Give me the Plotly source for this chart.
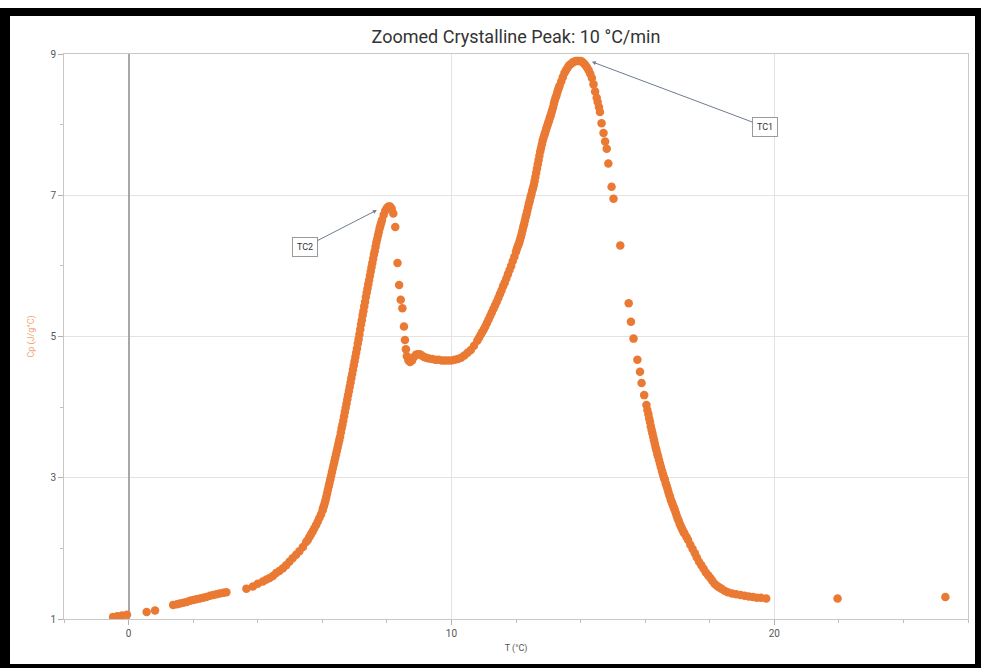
import plotly.graph_objects as go

# Temperature (°C) and heat capacity (J/g°C)
T = [-0.48, -0.35, -0.20, -0.05, 0.56, 0.82, 1.38, 1.50, 1.59, 1.70, 1.80, 1.90, 2.00, 2.10,
     2.21, 2.31, 2.41, 2.52, 2.62, 2.72, 2.82, 2.93, 3.03, 3.65, 3.85, 4.00, 4.16, 4.27, 4.37,
     4.47, 4.57, 4.67, 4.78, 4.88, 4.98, 5.08, 5.19, 5.29, 5.40, 5.50, 5.60, 5.70, 5.81, 5.91,
     6.01, 6.05, 6.10, 6.15, 6.20, 6.25, 6.30, 6.35, 6.40, 6.45, 6.50, 6.55, 6.60, 6.65, 6.70,
     6.75, 6.80, 6.85, 6.90, 6.95, 7.00, 7.05, 7.10, 7.15, 7.20, 7.25, 7.30, 7.35, 7.40, 7.45,
     7.50, 7.55, 7.60, 7.65, 7.70, 7.75, 7.80, 7.85, 7.90, 7.95, 8.00, 8.05, 8.10, 8.15, 8.20,
     8.26, 8.33, 8.38, 8.43, 8.48, 8.53, 8.56, 8.59, 8.62, 8.67, 8.72, 8.78, 8.84, 8.90, 8.96,
     9.02, 9.08, 9.15, 9.22, 9.30, 9.40, 9.50, 9.60, 9.70, 9.80, 9.90, 10.00, 10.10, 10.20,
     10.30, 10.40, 10.50, 10.60, 10.70, 10.80, 10.90, 11.00, 11.10, 11.20, 11.30, 11.40, 11.50,
     11.60, 11.70, 11.80, 11.90, 12.00, 12.05, 12.10, 12.15, 12.20, 12.25, 12.30, 12.35, 12.40,
     12.45, 12.50, 12.55, 12.60, 12.65, 12.70, 12.75, 12.80, 12.85, 12.90, 12.95, 13.00, 13.05,
     13.10, 13.15, 13.20, 13.25, 13.30, 13.35, 13.40, 13.45, 13.50, 13.55, 13.60, 13.65, 13.70,
     13.75, 13.80, 13.85, 13.90, 13.95, 14.00, 14.05, 14.10, 14.15, 14.20, 14.25, 14.30, 14.35,
     14.40, 14.45, 14.50, 14.53, 14.57, 14.60, 14.65, 14.71, 14.76, 14.81, 14.86, 14.96, 15.02,
     15.23, 15.49, 15.56, 15.64, 15.76, 15.84, 15.89, 15.97, 16.04, 16.10, 16.15, 16.20, 16.25,
     16.30, 16.35, 16.40, 16.46, 16.52, 16.57, 16.61, 16.67, 16.72, 16.77, 16.82, 16.87, 16.92,
     16.98, 17.04, 17.10, 17.16, 17.22, 17.28, 17.33, 17.40, 17.47, 17.54, 17.60, 17.67, 17.74,
     17.81, 17.88, 17.95, 18.02, 18.08, 18.15, 18.22, 18.29, 18.36, 18.46, 18.56, 18.69, 18.82,
     18.95, 19.08, 19.21, 19.34, 19.46, 19.59, 19.75, 21.96, 25.30]
Cp = [1.03, 1.04, 1.05, 1.06, 1.10, 1.12, 1.20, 1.21, 1.22, 1.23, 1.24, 1.26, 1.27, 1.28,
      1.29, 1.30, 1.31, 1.33, 1.34, 1.35, 1.36, 1.37, 1.38, 1.43, 1.46, 1.50, 1.53, 1.56, 1.58,
      1.61, 1.65, 1.68, 1.72, 1.76, 1.81, 1.86, 1.91, 1.96, 2.02, 2.09, 2.16, 2.24, 2.33, 2.43,
      2.54, 2.60, 2.68, 2.78, 2.88, 2.98, 3.08, 3.18, 3.28, 3.38, 3.48, 3.58, 3.70, 3.81, 3.93,
      4.05, 4.17, 4.29, 4.41, 4.53, 4.65, 4.77, 4.90, 5.03, 5.17, 5.30, 5.43, 5.56, 5.68, 5.80,
      5.92, 6.04, 6.16, 6.27, 6.38, 6.48, 6.57, 6.65, 6.72, 6.78, 6.82, 6.84, 6.84, 6.81, 6.74,
      6.55, 6.04, 5.73, 5.52, 5.40, 5.14, 4.95, 4.82, 4.72, 4.66, 4.64, 4.66, 4.71, 4.74, 4.75,
      4.75, 4.73, 4.71, 4.70, 4.69, 4.68, 4.67, 4.67, 4.66, 4.66, 4.66, 4.66, 4.67, 4.68,
      4.70, 4.73, 4.77, 4.81, 4.87, 4.94, 5.02, 5.10, 5.19, 5.29, 5.39, 5.49, 5.60,
      5.71, 5.82, 5.94, 6.07, 6.20, 6.27, 6.33, 6.41, 6.50, 6.59, 6.69, 6.78, 6.88,
      6.97, 7.06, 7.14, 7.26, 7.38, 7.50, 7.62, 7.72, 7.81, 7.88, 7.96, 8.03, 8.10,
      8.17, 8.25, 8.34, 8.41, 8.49, 8.55, 8.61, 8.67, 8.73, 8.77, 8.81, 8.84, 8.86,
      8.88, 8.89, 8.90, 8.90, 8.90, 8.90, 8.89, 8.87, 8.84, 8.81, 8.77, 8.72, 8.66,
      8.57, 8.47, 8.38, 8.32, 8.25, 8.18, 8.02, 7.88, 7.76, 7.66, 7.45, 7.12, 6.95,
      6.29, 5.47, 5.21, 4.97, 4.67, 4.50, 4.34, 4.17, 4.03, 3.90, 3.79, 3.68, 3.58,
      3.48, 3.39, 3.30, 3.20, 3.10, 3.02, 2.97, 2.88, 2.80, 2.73, 2.66, 2.60, 2.54,
      2.46, 2.39, 2.32, 2.26, 2.21, 2.16, 2.12, 2.05, 1.99, 1.93, 1.87, 1.81, 1.76,
      1.71, 1.66, 1.62, 1.58, 1.54, 1.50, 1.47, 1.45, 1.43, 1.40, 1.38, 1.36, 1.35,
      1.34, 1.33, 1.32, 1.31, 1.30, 1.30, 1.29, 1.29, 1.31]

# Additional readings on the densely sampled flanks
T_dense = [5.55, 5.65, 5.75, 5.86, 5.96,
           6.025, 6.075, 6.125, 6.175, 6.225, 6.275, 6.325, 6.375, 6.425, 6.475, 6.525,
           6.575, 6.625, 6.675, 6.725, 6.775, 6.825, 6.875, 6.925, 6.975, 7.025, 7.075,
           7.125, 7.175, 7.225, 7.275, 7.325, 7.375, 7.425, 7.475, 7.525, 7.575, 7.625,
           7.675, 7.725, 7.775, 7.825,
           10.85, 10.95, 11.05, 11.15, 11.25, 11.35, 11.45, 11.55, 11.65, 11.75, 11.85, 11.95,
           12.025, 12.075, 12.125, 12.175, 12.225, 12.275, 12.325, 12.375, 12.425, 12.475,
           12.525, 12.575, 12.625, 12.675, 12.725, 12.775, 12.825, 12.875, 12.925, 12.975,
           13.025, 13.075, 13.125, 13.175, 13.225, 13.275, 13.325,
           16.07, 16.125, 16.175, 16.225, 16.275, 16.325, 16.375, 16.43, 16.49, 16.545,
           16.59, 16.64, 16.695, 16.745, 16.795, 16.845, 16.895, 16.95, 17.01, 17.07,
           17.13, 17.19]
Cp_dense = [2.12, 2.20, 2.28, 2.38, 2.48,
            2.57, 2.64, 2.73, 2.83, 2.93, 3.03, 3.13, 3.23, 3.33, 3.43, 3.53,
            3.64, 3.75, 3.87, 3.99, 4.11, 4.23, 4.35, 4.47, 4.59, 4.71, 4.83,
            4.96, 5.10, 5.23, 5.36, 5.49, 5.62, 5.74, 5.86, 5.98, 6.10, 6.21,
            6.33, 6.43, 6.53, 6.61,
            4.98, 5.06, 5.14, 5.24, 5.34, 5.44, 5.54, 5.65, 5.76, 5.88, 6.00, 6.13,
            6.24, 6.30, 6.37, 6.45, 6.55, 6.64, 6.73, 6.83, 6.92, 7.01,
            7.10, 7.20, 7.32, 7.44, 7.56, 7.67, 7.77, 7.85, 7.92, 7.99,
            8.06, 8.13, 8.21, 8.30, 8.38, 8.45, 8.52,
            3.96, 3.84, 3.73, 3.63, 3.53, 3.43, 3.34, 3.25, 3.15, 3.06,
            2.99, 2.92, 2.84, 2.76, 2.69, 2.63, 2.57, 2.50, 2.42, 2.35,
            2.29, 2.23]

X_RANGE = [-2, 26]
Y_RANGE = [1, 9]
X_TICKS = [0, 10, 20]
Y_TICKS = [1, 3, 5, 7, 9]
PEAKS = [("TC1", 14.35, 8.89, 173, 65), ("TC2", 7.69, 6.79, -72, 37)]

W, H = 981, 668
ML, MR, MT, MB = 64, 13, 54, 49
PW, PH = W - ML - MR, H - MT - MB


def px_x(px):
    return (px - ML) / PW


def px_y(py):
    return (H - MB - py) / PH


fig = go.Figure()
fig.add_trace(go.Scatter(
    x=T + T_dense, y=Cp + Cp_dense, mode="markers",
    marker=dict(color="#EA7A33", size=8.5, line=dict(width=0)),
    showlegend=False,
))

for label, x, y, ax, ay in PEAKS:
    fig.add_annotation(
        x=x, y=y, ax=ax, ay=ay, text=label, showarrow=True,
        arrowhead=2, arrowsize=0.8, arrowwidth=1, arrowcolor="#6d7d8e",
        bordercolor="#9a9a9a", borderwidth=1, borderpad=4, bgcolor="white",
        font=dict(size=9, color="#333333", family="Roboto"),
    )

shapes = [
    # white page inside black frame
    dict(type="rect", xref="paper", yref="paper", layer="below",
         x0=px_x(10), x1=px_x(975), y0=px_y(664), y1=px_y(16),
         fillcolor="white", line=dict(width=0)),
    dict(type="rect", xref="paper", yref="paper", layer="below",
         x0=px_x(0), x1=px_x(981), y0=px_y(8), y1=px_y(0),
         fillcolor="white", line=dict(width=0)),
]

fig.update_layout(
    width=W, height=H,
    margin=dict(l=ML, r=MR, t=MT, b=MB, pad=0),
    paper_bgcolor="black",
    plot_bgcolor="rgba(0,0,0,0)",
    shapes=shapes,
    font=dict(family="Roboto", color="#555555", size=9),
    title=dict(text="Zoomed Crystalline Peak: 10 °C/min", x=0.5, xref="paper",
               y=1 - 37 / H, yref="container", yanchor="middle", xanchor="center",
               font=dict(size=18, color="#333333", family="Roboto")),
    xaxis=dict(
        range=X_RANGE, tickvals=X_TICKS, ticks="outside", ticklen=5, tickcolor="#b0b0b0",
        showgrid=True, gridcolor="#e3e3e3", gridwidth=1,
        zeroline=True, zerolinecolor="#a8a8a8", zerolinewidth=2,
        showline=True, linecolor="#c8c8c8", linewidth=1, mirror=True,
        minor=dict(dtick=2, ticks="outside", ticklen=3, tickcolor="#c0c0c0", showgrid=False),
        title=dict(text="T (°C)", font=dict(size=9, color="#555555"), standoff=6),
        tickfont=dict(size=10, color="#555555"),
    ),
    yaxis=dict(
        range=Y_RANGE, tickvals=Y_TICKS, ticks="outside", ticklen=5, tickcolor="#b0b0b0",
        showgrid=True, gridcolor="#e3e3e3", gridwidth=1, zeroline=False,
        showline=True, linecolor="#c8c8c8", linewidth=1, mirror=True,
        minor=dict(dtick=1, ticks="outside", ticklen=3, tickcolor="#c0c0c0", showgrid=False),
        title=dict(text="Cp (J/g°C)", font=dict(size=9, color="#F3A574"), standoff=14),
        tickfont=dict(size=10, color="#555555"),
    ),
)

fig.write_html("out.html")
